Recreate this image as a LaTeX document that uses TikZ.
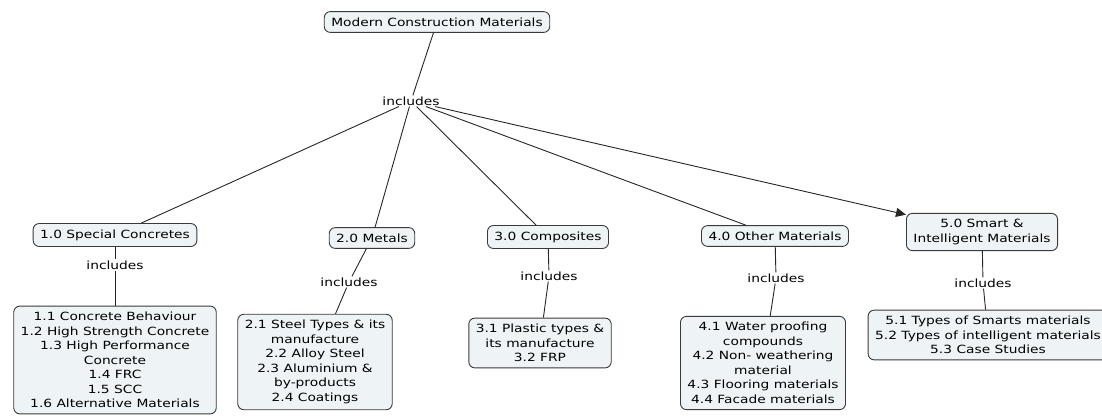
\documentclass[tikz,border=0pt]{standalone}
\usepackage{fontspec}
\setmainfont[FakeStretch=1.22]{DejaVu Sans}
\usetikzlibrary{arrows.meta}
\definecolor{boxfill}{HTML}{EEF3F5}
\definecolor{boxline}{HTML}{3A3A3A}
\tikzset{
  concept/.style={draw=boxline, fill=boxfill, rounded corners=6pt, line width=0.9pt,
    align=center, inner xsep=7pt, inner ysep=6pt, font=\fontsize{11.3}{14.5}\selectfont},
  linkword/.style={fill=white, inner sep=1pt, font=\fontsize{11.3}{14.5}\selectfont},
  conn/.style={draw=black!85, line width=0.9pt},
  arr/.style={conn, -{Triangle[length=10pt,width=9pt]}}
}
\begin{document}
\begin{tikzpicture}[x=1pt,y=-1pt]
\useasboundingbox (0,0) rectangle (1102,417);
% root
\node[concept] (root) at (437,22) {Modern Construction Materials};
\node[linkword] (inc0) at (411,101) {includes};
% level 1
\node[concept] (c1) at (115,235) {1.0 Special Concretes};
\node[concept] (c2) at (372,238) {2.0 Metals};
\node[concept] (c3) at (548,237) {3.0 Composites};
\node[concept] (c4) at (775,236) {4.0 Other Materials};
\node[concept] (c5) at (982,232) {5.0 Smart \&\\Intelligent Materials};
% link words
\node[linkword] (i1) at (115,265) {includes};
\node[linkword] (i2) at (349,282) {includes};
\node[linkword] (i3) at (549,276) {includes};
\node[linkword] (i4) at (776,278) {includes};
\node[linkword] (i5) at (983,283) {includes};
% level 2
\node[concept] (d1) at (115,360) {1.1 Concrete Behaviour\\1.2 High Strength Concrete\\1.3 High Performance\\Concrete\\1.4 FRC\\1.5 SCC\\1.6 Alternative Materials};
\node[concept] (d2) at (315,362) {2.1 Steel Types \& its\\manufacture\\2.2 Alloy Steel\\2.3 Aluminium \&\\by-products\\2.4 Coatings};
\node[concept] (d3) at (540,343) {3.1 Plastic types \&\\its manufacture\\3.2 FRP};
\node[concept] (d4) at (763,363) {4.1 Water proofing\\compounds\\4.2 Non- weathering\\material\\4.3 Flooring materials\\4.4 Facade materials};
\node[concept] (d5) at (988,335) {5.1 Types of Smarts materials\\5.2 Types of intelligent materials\\5.3 Case Studies};
% connectors
\draw[conn] (root) -- (inc0);
\draw[conn] (inc0) -- (c1);
\draw[conn] (inc0) -- (c2);
\draw[conn] (inc0) -- (c3);
\draw[conn] (inc0) -- (c4);
\draw[arr] (inc0) -- (c5);
\draw[conn] (c1) -- (i1); \draw[conn] (i1) -- (d1);
\draw[conn] (c2) -- (i2); \draw[conn] (i2) -- (d2);
\draw[conn] (c3) -- (i3); \draw[conn] (i3) -- (d3);
\draw[conn] (c4) -- (i4); \draw[conn] (i4) -- (d4);
\draw[conn] (c5) -- (i5); \draw[conn] (i5) -- (d5);
\end{tikzpicture}
\end{document}
